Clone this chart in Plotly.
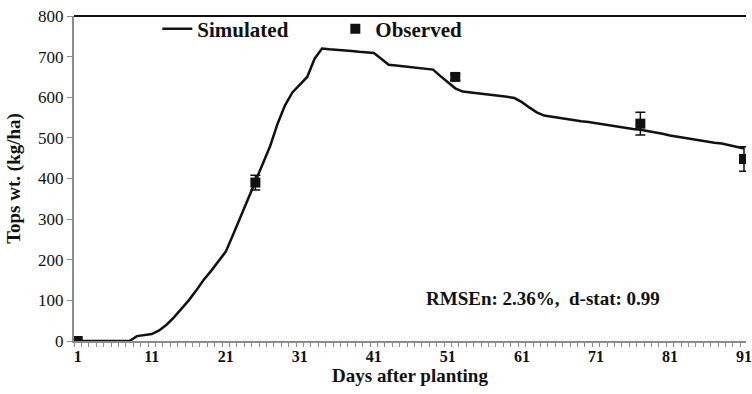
import plotly.graph_objects as go

# Simulated tops weight (kg/ha), one value per day after planting (days 1-91)
sim_days = list(range(1, 92))
sim_tops = [
    0, 0, 0, 0, 0, 0, 0, 0, 12, 14,            # 1-10
    17, 26, 40, 58, 78, 100, 124, 150, 172, 195,  # 11-20
    220, 262, 305, 350, 392, 436, 480, 535, 580, 612,  # 21-30
    632, 650, 695, 720, 718, 717, 715, 714, 712, 711,  # 31-40
    709, 695, 680, 678, 676, 674, 672, 670, 668, 652,  # 41-50
    636, 622, 614, 612, 610, 607, 605, 603, 601, 598,  # 51-60
    588, 575, 563, 555, 552, 549, 547, 544, 541, 539,  # 61-70
    536, 533, 531, 528, 525, 522, 520, 517, 513, 510,  # 71-80
    506, 503, 499, 496, 493, 491, 488, 486, 482, 478,  # 81-90
    474,                                          # 91
]

# Observed tops weight with standard errors
obs_days = [1, 25, 52, 77, 91]
obs_tops = [0, 390, 650, 535, 448]
obs_err = [0, 18, 8, 28, 30]

x_tick_vals = [1, 11, 21, 31, 41, 51, 61, 71, 81, 91]
y_tick_vals = [0, 100, 200, 300, 400, 500, 600, 700, 800]

FONT = "Liberation Serif"
AXIS_GREY = "#8c8c8c"

fig = go.Figure()

fig.add_trace(go.Scatter(
    x=sim_days, y=sim_tops, mode="lines", name="Simulated",
    line=dict(color="#111111", width=2.5),
))

fig.add_trace(go.Scatter(
    x=obs_days, y=obs_tops, mode="markers", name="Observed",
    marker=dict(symbol="square", size=10, color="#111111"),
    error_y=dict(type="data", array=obs_err, visible=True,
                 color="#111111", thickness=1.5, width=5),
))

fig.update_layout(
    width=752, height=394,
    margin=dict(l=74, r=0, t=16, b=53),
    plot_bgcolor="white", paper_bgcolor="white",
    font=dict(family=FONT, color="#111111"),
    showlegend=True,
    legend=dict(
        orientation="h", x=0.124, y=0.96, xanchor="left", yanchor="middle",
        font=dict(family=FONT, size=21, weight="bold"),
        bgcolor="rgba(0,0,0,0)", entrywidth=133, entrywidthmode="pixels",
    ),
    xaxis=dict(
        range=[0.5, 91.27],
        tickmode="array", tickvals=x_tick_vals,
        ticks="", showgrid=False, zeroline=False,
        showline=True, linecolor=AXIS_GREY, linewidth=2,
        ticklabeloverflow="allow",
        tickfont=dict(family=FONT, size=16, weight="bold", color="#111111"),
        minor=dict(ticks="outside", tick0=0.5, dtick=1, ticklen=4,
                   tickcolor=AXIS_GREY, tickwidth=1, showgrid=False),
        title=dict(text="Days after planting", standoff=2,
                   font=dict(family=FONT, size=19, weight="bold")),
    ),
    yaxis=dict(
        range=[0, 800],
        tickmode="array", tickvals=y_tick_vals,
        ticks="outside", ticklen=5, tickcolor=AXIS_GREY, tickwidth=1,
        showgrid=False, zeroline=False,
        showline=True, linecolor=AXIS_GREY, linewidth=2,
        tickfont=dict(family=FONT, size=17, color="#111111"),
        title=dict(text="Tops wt. (kg/ha)", standoff=12,
                   font=dict(family=FONT, size=19, weight="bold")),
    ),
    shapes=[dict(type="line", xref="paper", yref="paper", x0=0, x1=1, y0=1, y1=1,
                 line=dict(color="#111111", width=2))],
    annotations=[dict(
        text="RMSEn: 2.36%,  d-stat: 0.99", xref="paper", yref="paper",
        x=0.698, y=0.132, showarrow=False, xanchor="center", yanchor="middle",
        font=dict(family=FONT, size=19, weight="bold", color="#111111"),
    )],
)

fig.write_html("out.html")
